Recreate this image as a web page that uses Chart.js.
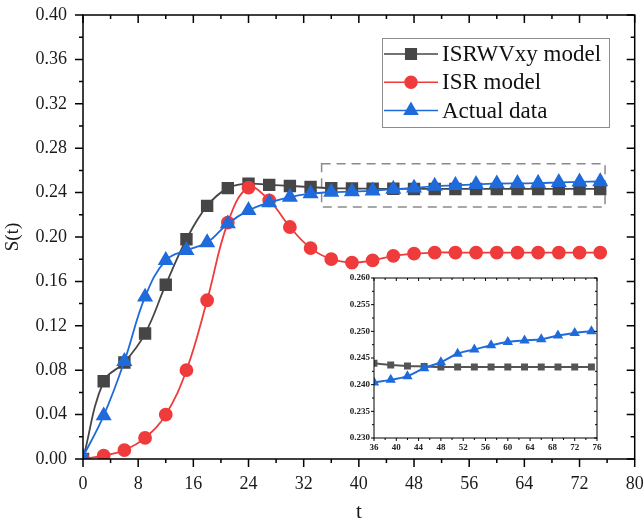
<!DOCTYPE html>
<html>
<head>
<meta charset="utf-8">
<script src="https://cdn.jsdelivr.net/npm/chart.js@4.4.0/dist/chart.umd.min.js"></script>
<style>
  body { margin: 0; background: #fff; }
  #wrap { position: relative; width: 644px; height: 528px; }
  #mainCanvas { position: absolute; left: 0; top: 0; }
  #insetCanvas { position: absolute; left: 342px; top: 272px; background: #fff; }
</style>
</head>
<body>
<div id="wrap">
  <canvas id="mainCanvas" width="644" height="528"></canvas>
  <canvas id="insetCanvas" width="262" height="180"></canvas>
</div>
<script>
// time steps (every 3)
const tValues = [0, 3, 6, 9, 12, 15, 18, 21, 24, 27, 30, 33, 36, 39, 42, 45, 48, 51, 54, 57, 60, 63, 66, 69, 72, 75];
const isrwvxy = [0, 0.070, 0.087, 0.113, 0.157, 0.198, 0.228, 0.244, 0.248, 0.247, 0.246, 0.245, 0.2440, 0.2437, 0.2435, 0.2434, 0.2433, 0.2433, 0.2433, 0.2433, 0.2433, 0.2433, 0.2433, 0.2433, 0.2433, 0.2433];
const isr = [0, 0.003, 0.008, 0.019, 0.040, 0.080, 0.143, 0.213, 0.2445, 0.233, 0.209, 0.190, 0.180, 0.177, 0.179, 0.183, 0.185, 0.186, 0.186, 0.186, 0.186, 0.186, 0.186, 0.186, 0.186, 0.186];
const actual = [0.002, 0.039, 0.088, 0.146, 0.179, 0.188, 0.195, 0.212, 0.224, 0.231, 0.236, 0.239, 0.2404, 0.2409, 0.2416, 0.2431, 0.2442, 0.2458, 0.2466, 0.2474, 0.2480, 0.2483, 0.2485, 0.2492, 0.2497, 0.2500];
const seriesNames = ["ISRWVxy model", "ISR model", "Actual data"];
const insetStart = 12; // index of t = 36
// dashed box marking the zoomed region (data coords)
const zoomBox = { x0: 34.6, x1: 75.7, y0: 0.227, y1: 0.266 };

const serif = "'Liberation Serif', 'Times New Roman', serif";
const grey = '#464646', red = '#ef3b3b', blue = '#1f6bdc';

function pts(xs, ys) { return xs.map((x, i) => ({ x: x, y: ys[i] })); }

// box + major/minor ticks (bottom/left outward, top/right inward)
function framePlugin(major, minor, lw) {
  return {
    id: 'frame',
    afterDatasetsDraw(chart) {
      const { ctx, chartArea: a } = chart;
      const x = chart.scales.x, y = chart.scales.y;
      ctx.save();
      ctx.strokeStyle = '#000';
      ctx.lineWidth = lw;
      ctx.beginPath();
      const xv = x.ticks.map(t => t.value);
      xv.forEach((v, i) => {
        const p = x.getPixelForValue(v);
        ctx.moveTo(p, a.bottom); ctx.lineTo(p, a.bottom + major);
        ctx.moveTo(p, a.top); ctx.lineTo(p, a.top + major);
        if (i < xv.length - 1) {
          const m = x.getPixelForValue((v + xv[i + 1]) / 2);
          ctx.moveTo(m, a.bottom); ctx.lineTo(m, a.bottom + minor);
          ctx.moveTo(m, a.top); ctx.lineTo(m, a.top + minor);
        }
      });
      const yv = y.ticks.map(t => t.value);
      yv.forEach((v, i) => {
        const p = y.getPixelForValue(v);
        ctx.moveTo(a.left, p); ctx.lineTo(a.left - major, p);
        ctx.moveTo(a.right, p); ctx.lineTo(a.right - major, p);
        if (i < yv.length - 1) {
          const m = y.getPixelForValue((v + yv[i + 1]) / 2);
          ctx.moveTo(a.left, m); ctx.lineTo(a.left - minor, m);
          ctx.moveTo(a.right, m); ctx.lineTo(a.right - minor, m);
        }
      });
      ctx.stroke();
      ctx.strokeRect(a.left, a.top, a.width, a.height);
      ctx.restore();
    }
  };
}

const zoomBoxPlugin = {
  id: 'zoomBox',
  beforeDatasetsDraw(chart) {
    const { ctx } = chart;
    const x = chart.scales.x, y = chart.scales.y;
    const l = x.getPixelForValue(zoomBox.x0), r = x.getPixelForValue(zoomBox.x1);
    const t = y.getPixelForValue(zoomBox.y1), b = y.getPixelForValue(zoomBox.y0);
    ctx.save();
    ctx.strokeStyle = '#8a8a8a';
    ctx.lineWidth = 1.5;
    ctx.setLineDash([9, 6]);
    ctx.strokeRect(l, t, r - l, b - t);
    ctx.restore();
  }
};

const legendPlugin = {
  id: 'boxLegend',
  afterDraw(chart) {
    const ctx = chart.ctx;
    const left = 382, top = 38, w = 227, h = 89;
    ctx.save();
    ctx.fillStyle = '#fff';
    ctx.fillRect(left, top, w, h);
    ctx.strokeStyle = '#8c8c8c';
    ctx.lineWidth = 1;
    ctx.strokeRect(left + 0.5, top + 0.5, w, h);
    ctx.font = '23px ' + serif;
    ctx.textBaseline = 'middle';
    chart.data.datasets.forEach((ds, i) => {
      const cy = 54 + i * 28.3;
      ctx.strokeStyle = ds.borderColor;
      ctx.lineWidth = 1.5;
      ctx.beginPath();
      ctx.moveTo(384, cy); ctx.lineTo(438, cy);
      ctx.stroke();
      ctx.fillStyle = ds.backgroundColor;
      Chart.helpers.drawPoint(ctx, { pointStyle: ds.pointStyle, radius: ds.pointRadius, rotation: 0, borderWidth: 1 }, 411, cy);
      ctx.fillStyle = '#111';
      ctx.fillText(ds.label, 442, cy + 1);
    });
    ctx.restore();
  }
};

const tickFont = { family: serif, size: 18 };
const hiddenGrid = { drawOnChartArea: false, color: 'rgba(0,0,0,0)' };

new Chart(document.getElementById('mainCanvas'), {
  type: 'line',
  data: {
    datasets: [
      { label: seriesNames[0], data: pts(tValues, isrwvxy), borderColor: grey, backgroundColor: grey,
        pointStyle: 'rect', pointRadius: 7.5, borderWidth: 1.8, order: 3 },
      { label: seriesNames[1], data: pts(tValues, isr), borderColor: red, backgroundColor: red,
        pointStyle: 'circle', pointRadius: 6, borderWidth: 1.8, order: 2 },
      { label: seriesNames[2], data: pts(tValues, actual), borderColor: blue, backgroundColor: blue,
        pointStyle: 'triangle', pointRadius: 7.5, borderWidth: 1.8, order: 1 }
    ]
  },
  options: {
    responsive: false,
    animation: false,
    events: [],
    layout: { padding: { top: 15, right: 9, left: 0, bottom: 0 } },
    elements: { line: { tension: 0.4 }, point: { borderWidth: 1 } },
    plugins: { legend: { display: false }, tooltip: { enabled: false } },
    scales: {
      x: {
        type: 'linear', min: 0, max: 80,
        ticks: { stepSize: 8, font: tickFont, color: '#1a1a1a', padding: 6, maxRotation: 0 },
        grid: Object.assign({ tickLength: 8 }, hiddenGrid),
        border: { display: false },
        title: { display: true, text: 't', font: { family: serif, size: 21 }, color: '#1a1a1a', padding: { top: 0, bottom: 3 } },
        afterFit: s => { s.height = 69; s.paddingLeft = 0; s.paddingRight = 0; }
      },
      y: {
        min: 0, max: 0.40,
        ticks: { stepSize: 0.04, font: tickFont, color: '#1a1a1a', padding: 8, callback: v => v.toFixed(2) },
        grid: Object.assign({ tickLength: 8 }, hiddenGrid),
        border: { display: false },
        title: { display: true, text: 'S(t)', font: { family: serif, size: 19 }, color: '#1a1a1a', padding: { top: 2, bottom: 0 } },
        afterFit: s => { s.width = 83; s.paddingTop = 0; s.paddingBottom = 0; }
      }
    }
  },
  plugins: [zoomBoxPlugin, framePlugin(8, 4, 1.5), legendPlugin]
});

const insetFont = { family: serif, size: 9, weight: 'bold' };

new Chart(document.getElementById('insetCanvas'), {
  type: 'line',
  data: {
    datasets: [
      { label: seriesNames[0], data: pts(tValues.slice(insetStart), isrwvxy.slice(insetStart)),
        borderColor: '#555', backgroundColor: '#555', pointStyle: 'rect', pointRadius: 3.5, borderWidth: 2, order: 2 },
      { label: seriesNames[2], data: pts(tValues.slice(insetStart), actual.slice(insetStart)),
        borderColor: blue, backgroundColor: blue, pointStyle: 'triangle', pointRadius: 4, borderWidth: 2, order: 1 }
    ]
  },
  options: {
    responsive: false,
    animation: false,
    events: [],
    layout: { padding: { top: 6, right: 7, left: 0, bottom: 0 } },
    elements: { line: { tension: 0.4 }, point: { borderWidth: 1 } },
    plugins: { legend: { display: false }, tooltip: { enabled: false } },
    scales: {
      x: {
        type: 'linear', min: 36, max: 76,
        ticks: { stepSize: 4, font: insetFont, color: '#222', padding: 1, autoSkip: false, maxRotation: 0 },
        grid: Object.assign({ tickLength: 3 }, hiddenGrid),
        border: { display: false },
        afterFit: s => { s.height = 14; s.paddingLeft = 0; s.paddingRight = 0; }
      },
      y: {
        min: 0.230, max: 0.260,
        ticks: { stepSize: 0.005, font: insetFont, color: '#222', padding: 1, callback: v => v.toFixed(3) },
        grid: Object.assign({ tickLength: 3 }, hiddenGrid),
        border: { display: false },
        afterFit: s => { s.width = 32; s.paddingTop = 0; s.paddingBottom = 0; }
      }
    }
  },
  plugins: [framePlugin(3, 2, 1)]
});
</script>
</body>
</html>
